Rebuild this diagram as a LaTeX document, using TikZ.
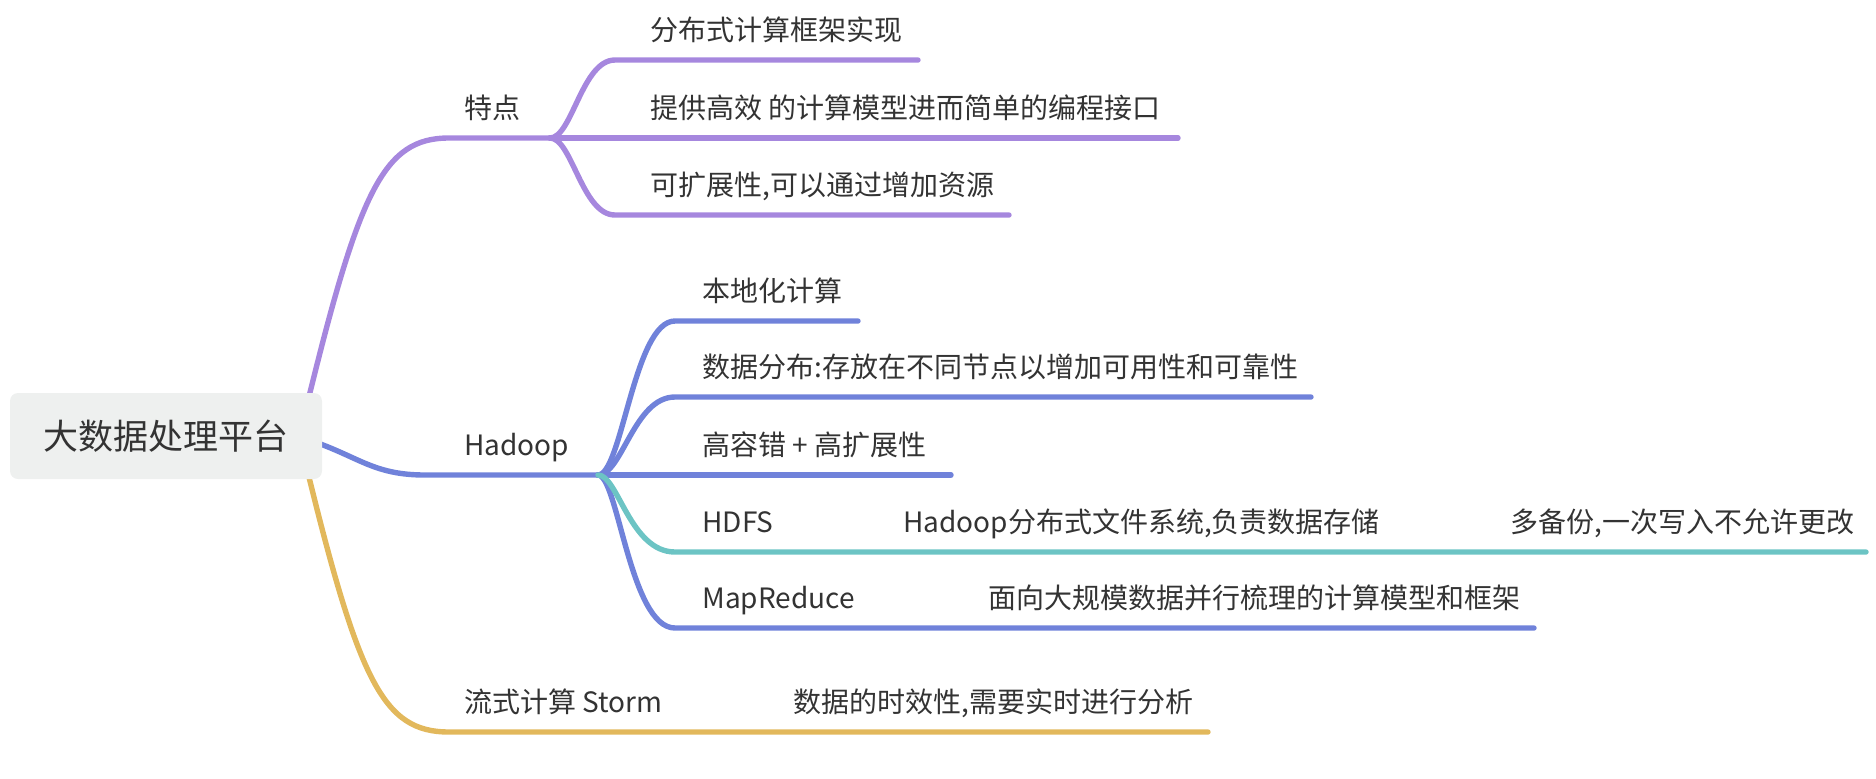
\documentclass[tikz,border=0pt]{standalone}
\usepackage{fontspec}
\setmainfont{Noto Sans CJK SC}
\definecolor{cpurple}{HTML}{A687DE}
\definecolor{cblue}{HTML}{7082DA}
\definecolor{cteal}{HTML}{6CC4C4}
\definecolor{cgold}{HTML}{E2B85C}
\definecolor{txt}{HTML}{333333}
\definecolor{rootfill}{HTML}{EEF0EF}
\begin{document}
\begin{tikzpicture}[x=0.5pt,y=-0.5pt,
  lbl/.style={anchor=base west, inner sep=0pt, font=\fontsize{14}{16}\selectfont, text=txt},
  br/.style={line width=2.7pt, line cap=round},
  rootbox/.style={fill=rootfill, rounded corners=4pt, minimum width=156pt, minimum height=43pt, inner sep=0pt, font=\fontsize{17.5}{20}\selectfont, text=txt}]
\useasboundingbox (0,0) rectangle (1876,778);
% fork / line coordinates
\coordinate (rP) at (305,413);
\coordinate (rB) at (315,442);
\coordinate (rY) at (305,461);
\coordinate (f1) at (550,138);
\coordinate (f2) at (598,475);
\coordinate (a1) at (615,60);  \coordinate (e1) at (918,60);
\coordinate (e2) at (1178,138);
\coordinate (a3) at (615,215); \coordinate (e3) at (1009,215);
\coordinate (b1) at (675,321); \coordinate (g1) at (858,321);
\coordinate (b2) at (675,397); \coordinate (g2) at (1311,397);
\coordinate (g3) at (951,475);
\coordinate (b4) at (675,552); \coordinate (m4) at (880,552); \coordinate (n4) at (1480,552); \coordinate (g4) at (1866,552);
\coordinate (b5) at (675,628); \coordinate (m5) at (880,628); \coordinate (g5) at (1534,628);
\coordinate (s0) at (449,732); \coordinate (sm) at (683,732); \coordinate (se) at (1208,732);
% root connectors
\draw[br, cpurple] (rP) .. controls (359,191) and (383,138) .. (449,138) -- (f1);
\draw[br, cblue] (rB) .. controls (360,458) and (375,475) .. (425,475) -- (f2);
\draw[br, cgold] (rY) .. controls (359,682) and (383,732) .. (s0) -- (sm) -- (se);
% 特点 children
\draw[br, cpurple] (f1) .. controls (572,138) and (582,60) .. (a1) -- (e1);
\draw[br, cpurple] (f1) -- (e2);
\draw[br, cpurple] (f1) .. controls (572,138) and (582,215) .. (a3) -- (e3);
% Hadoop children
\draw[br, cblue] (f2) .. controls (622,475) and (634,321) .. (b1) -- (g1);
\draw[br, cblue] (f2) .. controls (622,475) and (634,397) .. (b2) -- (g2);
\draw[br, cblue] (f2) -- (g3);
\draw[br, cblue] (f2) .. controls (618,475) and (630,628) .. (b5) -- (m5) -- (g5);
\draw[br, cteal] (f2) .. controls (618,475) and (630,552) .. (b4) -- (m4) -- (n4) -- (g4);
% root
\node[rootbox] (root) at (166,436) {大数据处理平台};
% labels
\node[lbl] (tedian) at (464,118) {特点};
\node[lbl] (t1) at (650,40) {分布式计算框架实现};
\node[lbl] (t2) at (650,118) {提供高效 的计算模型进而简单的编程接口};
\node[lbl] (t3) at (650,195) {可扩展性,可以通过增加资源};
\node[lbl] (hadoop) at (464,455) {Hadoop};
\node[lbl] (h1) at (702,301) {本地化计算};
\node[lbl] (h2) at (702,377) {数据分布:存放在不同节点以增加可用性和可靠性};
\node[lbl] (h3) at (702,455) {高容错 + 高扩展性};
\node[lbl] (hdfs) at (702,532) {HDFS};
\node[lbl] (hdfs1) at (903,532) {Hadoop分布式文件系统,负责数据存储};
\node[lbl] (hdfs2) at (1510,532) {多备份,一次写入不允许更改};
\node[lbl] (mr) at (702,608) {MapReduce};
\node[lbl] (mr1) at (988,608) {面向大规模数据并行梳理的计算模型和框架};
\node[lbl] (storm) at (464,712) {流式计算 Storm};
\node[lbl] (storm1) at (793,712) {数据的时效性,需要实时进行分析};
\end{tikzpicture}
\end{document}
